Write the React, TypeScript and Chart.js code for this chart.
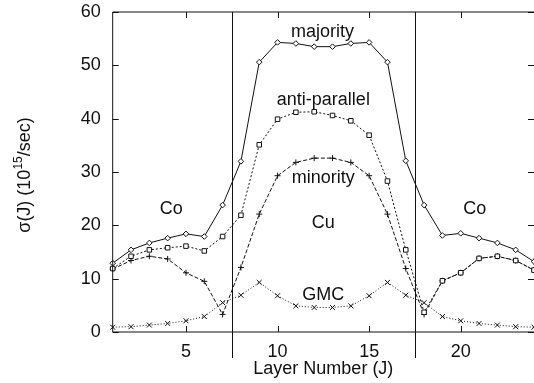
import React, { useEffect, useRef } from "react";
import { Chart, registerables } from "chart.js";

Chart.register(...registerables);

// Layer index J across the Co / Cu / Co stack
const layers = [1, 2, 3, 4, 5, 6, 7, 8, 9, 10, 11, 12, 13, 14, 15, 16, 17, 18, 19, 20, 21, 22, 23, 24];

// Layer-resolved conductivities, sigma(J) in 10^15 / sec
const majority = [12.9, 15.4, 16.7, 17.6, 18.4, 17.9, 23.8, 32.0, 50.6, 54.3, 54.1, 53.5, 53.5, 54.1, 54.3, 50.6, 32.1, 23.8, 18.1, 18.5, 17.6, 16.7, 15.4, 13.2];
const antiParallel = [11.9, 14.2, 15.4, 15.8, 16.1, 15.2, 17.9, 21.9, 35.1, 39.9, 41.2, 41.3, 40.6, 39.6, 36.9, 28.3, 15.4, 3.7, 9.6, 11.1, 13.8, 14.2, 13.4, 11.6];
const minority = [11.8, 13.4, 14.2, 13.7, 11.1, 9.5, 3.3, 12.1, 22.1, 29.3, 31.8, 32.6, 32.6, 31.8, 29.3, 22.1, 11.9, 3.3, 9.6, 11.1, 13.8, 14.2, 13.4, 11.6];
const gmc = [0.9, 1.0, 1.3, 1.6, 2.1, 2.9, 5.5, 6.9, 9.3, 6.8, 4.9, 4.6, 4.6, 4.9, 6.8, 9.3, 6.9, 5.5, 2.9, 2.1, 1.6, 1.3, 1.0, 0.9];

// Axis ticks and Co/Cu interfaces
const xTicks = [5, 10, 15, 20];
const yTicks = [0, 10, 20, 30, 40, 50, 60];
const interfaces = [7.5, 17.5];

// In-plot labels: [text, J, sigma]
const labels: [string, number, number][] = [
  ["majority", 12.45, 56.3],
  ["anti-parallel", 12.5, 43.5],
  ["minority", 12.5, 28.8],
  ["Cu", 12.5, 20.4],
  ["GMC", 12.5, 6.9],
  ["Co", 4.2, 23.0],
  ["Co", 20.77, 23.0],
];

const FONT = '"Liberation Sans", Arial, Helvetica, sans-serif';
const INK = "#111";

const toPoints = (vals: number[]) => layers.map((x, i) => ({ x, y: vals[i] }));

const framePlugin = {
  id: "frame",
  afterDatasetsDraw(chart: any) {
    const { ctx, chartArea } = chart;
    const xs = chart.scales.x;
    const ys = chart.scales.y;
    const { left, right, top, bottom } = chartArea;
    ctx.save();
    ctx.strokeStyle = INK;
    ctx.lineWidth = 1;
    ctx.setLineDash([]);
    // frame
    ctx.beginPath();
    ctx.moveTo(right, top);
    ctx.lineTo(left, top);
    ctx.lineTo(left, bottom);
    ctx.lineTo(right, bottom);
    ctx.stroke();
    // inward tick marks
    ctx.beginPath();
    for (const v of yTicks) {
      const y = Math.round(ys.getPixelForValue(v)) + 0.5;
      ctx.moveTo(left, y);
      ctx.lineTo(left + 6, y);
      ctx.moveTo(right, y);
      ctx.lineTo(right - 6, y);
    }
    for (const v of xTicks) {
      const x = Math.round(xs.getPixelForValue(v)) + 0.5;
      ctx.moveTo(x, bottom);
      ctx.lineTo(x, bottom - 6);
      ctx.moveTo(x, top);
      ctx.lineTo(x, top + 6);
    }
    ctx.stroke();
    // interface lines, extending below the axis
    ctx.beginPath();
    for (const v of interfaces) {
      const x = Math.round(xs.getPixelForValue(v)) + 0.5;
      ctx.moveTo(x, top);
      ctx.lineTo(x, bottom + 26);
    }
    ctx.stroke();
    // region / curve labels
    ctx.fillStyle = INK;
    ctx.font = `18px ${FONT}`;
    ctx.textAlign = "center";
    ctx.textBaseline = "middle";
    for (const [t, jx, sy] of labels) {
      ctx.fillText(t, xs.getPixelForValue(jx), ys.getPixelForValue(sy));
    }
    // y axis title with superscript exponent
    ctx.translate(25, 175);
    ctx.rotate(-Math.PI / 2);
    ctx.textAlign = "left";
    ctx.textBaseline = "middle";
    const a = "\u03c3(J) (10";
    const e = "15";
    const b = "/sec)";
    ctx.font = `18px ${FONT}`;
    const wa = ctx.measureText(a).width;
    const wb = ctx.measureText(b).width;
    ctx.font = `12px ${FONT}`;
    const we = ctx.measureText(e).width;
    let x0 = -(wa + we + wb) / 2;
    ctx.font = `18px ${FONT}`;
    ctx.fillText(a, x0, 0);
    x0 += wa;
    ctx.font = `12px ${FONT}`;
    ctx.fillText(e, x0, -6);
    x0 += we;
    ctx.font = `18px ${FONT}`;
    ctx.fillText(b, x0, 0);
    ctx.restore();
  },
};

export default function App() {
  const ref = useRef<HTMLCanvasElement | null>(null);

  useEffect(() => {
    if (!ref.current) return;
    const common = {
      borderColor: INK,
      pointBorderColor: INK,
      pointBackgroundColor: "#fff",
      borderWidth: 1,
      pointBorderWidth: 1,
      tension: 0,
      clip: false as any,
    };
    const chart = new Chart(ref.current, {
      type: "line",
      data: {
        datasets: [
          { ...common, label: "majority", data: toPoints(majority), pointStyle: "rectRot", pointRadius: 2.8 },
          { ...common, label: "anti-parallel", data: toPoints(antiParallel), pointStyle: "rect", pointRadius: 3.2, borderDash: [2, 2] },
          { ...common, label: "minority", data: toPoints(minority), pointStyle: "cross", pointRadius: 3, borderDash: [4, 2] },
          { ...common, label: "GMC", data: toPoints(gmc), pointStyle: "crossRot", pointRadius: 3.5, borderDash: [1, 2] },
        ],
      },
      options: {
        animation: false,
        responsive: false,
        devicePixelRatio: 1,
        layout: { autoPadding: false, padding: { top: 12, left: 0, right: 0, bottom: 0 } },
        plugins: { legend: { display: false }, tooltip: { enabled: false } },
        scales: {
          x: {
            type: "linear",
            min: 1,
            max: 24,
            border: { display: false },
            grid: { display: false, drawTicks: false },
            afterBuildTicks: (s: any) => {
              s.ticks = xTicks.map((v) => ({ value: v }));
            },
            afterFit: (s: any) => {
              s.height = 51;
              s.paddingLeft = 0;
              s.paddingRight = 0;
            },
            ticks: { color: INK, font: { size: 18, family: FONT }, padding: 9, maxRotation: 0, autoSkip: false },
            title: { display: true, text: "Layer Number (J)", color: INK, font: { size: 18, family: FONT }, padding: { top: 0, bottom: 3 } },
          },
          y: {
            min: 0,
            max: 60,
            border: { display: false },
            grid: { display: false, drawTicks: false },
            afterBuildTicks: (s: any) => {
              s.ticks = yTicks.map((v) => ({ value: v }));
            },
            afterFit: (s: any) => {
              s.width = 112.7;
              s.paddingTop = 0;
              s.paddingBottom = 0;
            },
            ticks: { color: INK, font: { size: 18, family: FONT }, padding: 12 },
          },
        },
      },
      plugins: [framePlugin],
    });
    return () => chart.destroy();
  }, []);

  return (
    <div style={{ position: "absolute", left: 0, top: 0, width: 534, height: 383, background: "#fff" }}>
      <canvas ref={ref} width={534} height={383} />
    </div>
  );
}
